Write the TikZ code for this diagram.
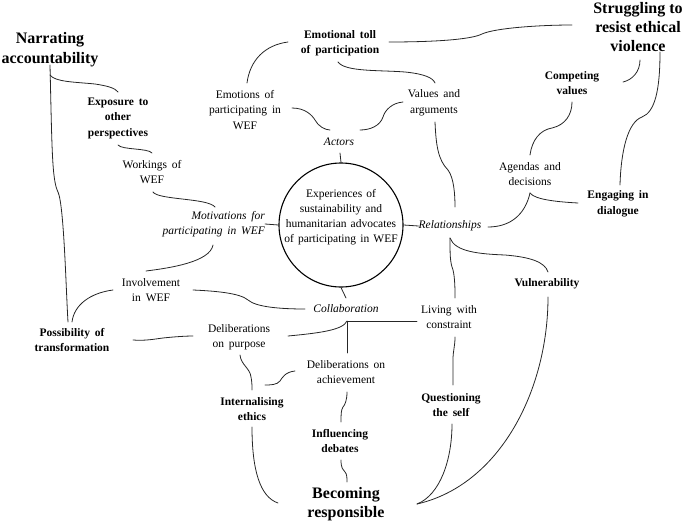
\documentclass[tikz,border=0pt]{standalone}
\usepackage{fontspec}
\setmainfont{Liberation Serif}
\usetikzlibrary{calc}
\begin{document}
\begin{tikzpicture}[x=1pt,y=-1pt,
  lbl/.style={inner sep=0pt, align=center, font=\fontsize{11.5}{15.5}\selectfont, execute at begin node={\spaceskip=0.42em\relax}},
  lblb/.style={lbl, font=\fontsize{11.5}{15.5}\selectfont\bfseries},
  lbli/.style={lbl, font=\fontsize{11.5}{15.5}\selectfont\itshape},
  head/.style={inner sep=0pt, align=center, font=\fontsize{16}{19}\selectfont\bfseries},
  conn/.style={draw=black!85, line width=0.8pt, line cap=round}]
\useasboundingbox (0,0) rectangle (685,524);

\node[head, font=\fontsize{16}{20}\selectfont\bfseries] (nar) at (50,50) {Narrating\\accountability};
\node[lblb] (toll) at (340,43) {Emotional toll\\of participation};
\node[head] (strug) at (638,27) {Struggling to\\resist ethical\\violence};
\node[lblb] (expo) at (118,118) {Exposure to\\other\\perspectives};
\node[lbl] (work) at (152,172) {Workings of\\WEF};
\node[lbl] (emo) at (245,110) {Emotions of\\participating in\\WEF};
\node[lbl] (val) at (434,103) {Values and\\arguments};
\node[lbli] (act) at (339,142) {Actors};
\node[lblb] (comp) at (572,83) {Competing\\values};
\node[lbl] (agen) at (530,174) {Agendas and\\decisions};
\node[lblb] (eng) at (618,204) {Engaging in\\dialogue};
\node[lbli] (rel) at (450,226) {Relationships};
\node[circle, draw, line width=1.1pt, minimum size=124pt, inner sep=0pt] (circ) at (341,225) {};
\node[lbl, font=\fontsize{11.5}{15}\selectfont, execute at begin node={\spaceskip=0.36em\relax}] (exp) at (341,217) {Experiences of\\sustainability and\\humanitarian advocates\\of participating in WEF};
\node[lbli, align=right, anchor=east] (mot) at (265,224) {Motivations for\\participating in WEF};
\node[lbl] (inv) at (151,290) {Involvement\\in WEF};
\node[lbli] (coll) at (346,309) {Collaboration};
\node[lblb] (poss) at (72,340) {Possibility of\\transformation};
\node[lbl] (delp) at (239,337) {Deliberations\\on purpose};
\node[lbl] (liv) at (449,317) {Living with\\constraint};
\node[lblb] (vul) at (547,284) {Vulnerability};
\node[lbl] (dela) at (346,372) {Deliberations on\\achievement};
\node[lblb] (intl) at (252,409) {Internalising\\ethics};
\node[lblb] (ques) at (451,405) {Questioning\\the self};
\node[lblb] (infl) at (340,441) {Influencing\\debates};
\node[head] (beco) at (346,504) {Becoming\\responsible};

% left side
\draw[conn] ($(nar.center)+(0,15)$) .. controls (52,150) and (52,180) .. (58,192) .. controls (64,205) and (66,290) .. ($(poss.center)+(-4,-18)$);
\draw[conn] ($(nar.center)+(0,25)$) .. controls (55,82) and (75,82) .. (95,84) .. controls (108,86) and (115,88) .. ($(expo.center)+(0,-26)$);
\draw[conn] ($(expo.center)+(0,27)$) .. controls (122,150) and (148,148) .. ($(work.center)+(0,-19)$);
\draw[conn] ($(work.center)+(1,20)$) .. controls (158,200) and (208,198) .. ($(mot.east)+(-50,-17)$);
\draw[conn] ($(mot.east)+(-52,21)$) .. controls (210,262) and (170,268) .. ($(inv.center)+(-5,-19)$);
\draw[conn] ($(inv.center)+(-38,0)$) .. controls (90,293) and (74,305) .. ($(poss.center)+(0,-18)$);
\draw[conn] ($(inv.center)+(42,0)$) .. controls (215,291) and (240,293) .. (248,300) .. controls (256,307) and (280,309) .. ($(coll.center)+(-41,0)$);
\draw[conn] ($(poss.center)+(61,0)$) .. controls (145,341) and (155,339) .. (163,338) .. controls (172,337) and (185,336) .. ($(delp.center)+(-46,-1)$);

% around the circle
\draw[conn] (circ.south) -- ($(coll.center)+(0,-11)$);
\draw[conn] ($(act.center)+(1,11)$) -- (circ.north);
\draw[conn] (mot.east) -- (circ.west);
\draw[conn] (circ.east) -- (rel.west);

% top
\draw[conn] ($(emo.center)+(47,-2)$) .. controls (305,108) and (312,115) .. (315,120) .. controls (318,126) and (325,130) .. ($(act.center)+(-9,-12)$);
\draw[conn] ($(val.center)+(-31,-1)$) .. controls (392,103) and (385,110) .. (383,117) .. controls (380,126) and (370,130) .. ($(act.center)+(21,-12)$);
\draw[conn] ($(toll.center)+(-52,-1)$) .. controls (265,45) and (250,60) .. ($(emo.center)+(2,-27)$);
\draw[conn] ($(toll.center)+(-2,19)$) .. controls (345,72) and (380,70) .. (405,72) .. controls (425,74) and (433,78) .. ($(val.center)+(1,-20)$);
\draw[conn] ($(toll.center)+(49,-1)$) .. controls (430,42) and (470,40) .. (482,34) .. controls (495,28) and (540,25) .. ($(strug.center)+(-66,-2)$);

% right side
\draw[conn] ($(val.center)+(1,19)$) .. controls (436,145) and (438,160) .. (448,170) .. controls (454,178) and (455,195) .. ($(rel.center)+(5,-19)$);
\draw[conn] ($(rel.center)+(38,1)$) .. controls (510,227) and (525,215) .. ($(agen.center)+(0,19)$);
\draw[conn] ($(agen.center)+(0,19)$) .. controls (535,200) and (560,202) .. ($(eng.center)+(-40,-1)$);
\draw[conn] ($(agen.center)+(0,-19)$) .. controls (532,140) and (540,130) .. (552,128) .. controls (565,125) and (572,115) .. ($(comp.center)+(0,19)$);
\draw[conn] ($(comp.center)+(51,-1)$) .. controls (632,80) and (640,72) .. ($(strug.center)+(2,33)$);
\draw[conn] ($(eng.center)+(2,-19)$) .. controls (621,150) and (628,122) .. (642,117) .. controls (655,112) and (660,90) .. ($(strug.center)+(22,25)$);
\draw[conn] ($(rel.center)+(0,12)$) .. controls (455,252) and (480,254) .. (505,255) .. controls (530,257) and (545,262) .. ($(vul.center)+(1,-12)$);
\draw[conn] ($(rel.center)+(0,12)$) .. controls (450,255) and (450,262) .. (453,270) .. controls (455,278) and (455,290) .. ($(liv.center)+(6,-19)$);
\draw[conn] ($(liv.center)+(6,20)$) .. controls (455,347) and (453,350) .. (453,360) .. controls (453,370) and (453,378) .. ($(ques.center)+(2,-20)$);
\draw[conn] ($(ques.center)+(1,19)$) .. controls (452,460) and (440,495) .. ($(beco.center)+(71,0)$);
\draw[conn] ($(vul.center)+(1,13)$) .. controls (548,390) and (500,485) .. ($(beco.center)+(71,0)$);

% bottom
\coordinate (J) at (347,321);
\draw[conn] ($(liv.center)+(-32,4)$) -- (J) -- ($(dela.center)+(1,-19)$);
\draw[conn] (J) .. controls (343,330) and (320,333) .. ($(delp.center)+(49,-1)$);
\draw[conn] ($(delp.center)+(1,18)$) .. controls (241,365) and (250,368) .. (251,377) .. controls (252,382) and (252,386) .. ($(intl.center)+(0,-19)$);
\draw[conn] ($(dela.center)+(-51,-1)$) .. controls (285,372) and (282,378) .. (280,381) .. controls (277,385) and (270,385) .. ($(intl.center)+(13,-24)$);
\draw[conn] ($(dela.center)+(1,20)$) .. controls (347,400) and (345,405) .. (343,407) .. controls (341,410) and (341,415) .. ($(infl.center)+(1,-19)$);
\draw[conn] ($(infl.center)+(1,19)$) .. controls (341,468) and (343,470) .. (345,472) .. controls (347,474) and (347,478) .. ($(beco.center)+(1,-22)$);
\draw[conn] ($(intl.center)+(0,18)$) .. controls (252,470) and (260,497) .. ($(beco.center)+(-68,-1)$);
\end{tikzpicture}
\end{document}
